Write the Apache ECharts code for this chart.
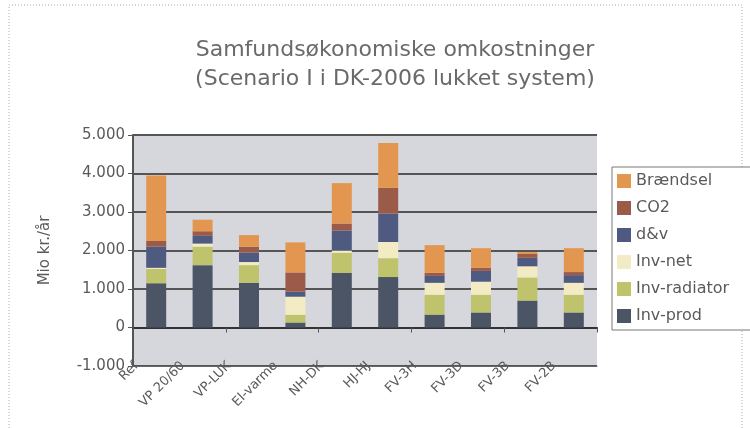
<!DOCTYPE html>
<html>
  <head>
    <meta charset="utf-8" />
    <title>Samfundsøkonomiske omkostninger</title>
    <script src="https://cdn.jsdelivr.net/npm/echarts@6/dist/echarts.min.js"></script>
  </head>
  <body style="margin:0;background:#fff;">
    <div id="chart" style="width:750px;height:428px;"></div>
    <script type="text/javascript">
      // values (Mio kr./år)
      var categories = ['Ref', 'VP 20/60', 'VP-LUK', 'El-varme', 'NH-DK', 'HJ-HJ', 'FV-3H', 'FV-3D', 'FV-3B', 'FV-2B'];
      var invProd = [1150, 1620, 1160, 130, 1420, 1310, 335, 390, 700, 390];
      var invRadiator = [370, 480, 460, 200, 520, 490, 515, 460, 600, 460];
      var invNet = [30, 80, 80, 470, 60, 420, 310, 340, 290, 310];
      var dv = [550, 200, 250, 130, 520, 740, 180, 280, 220, 200];
      var co2 = [150, 120, 150, 500, 180, 670, 80, 80, 100, 80];
      var braendsel = [1700, 300, 300, 780, 1050, 1160, 720, 510, 50, 620];
      var legendOrder = ['Brændsel', 'CO2', 'd&v', 'Inv-net', 'Inv-radiator', 'Inv-prod'];

      var font = 'DejaVu Sans';
      var txt = '#5a5a5a';

      function stackSeries(name, data, color) {
        return {
          name: name, type: 'bar', stack: 'total', data: data,
          barWidth: 20, xAxisIndex: 0,
          itemStyle: { color: color }
        };
      }

      function fmt(v) {
        if (v === 0) return '0';
        var s = Math.abs(v).toString().replace(/\B(?=(\d{3})+(?!\d))/g, '.');
        return (v < 0 ? '-' : '') + s;
      }

      var chart = echarts.init(document.getElementById('chart'));
      chart.setOption({
        animation: false,
        backgroundColor: '#fff',
        title: {
          text: 'Samfundsøkonomiske omkostninger\n(Scenario I i DK-2006 lukket system)',
          left: 390, top: 31, textAlign: 'center',
          textStyle: { fontFamily: font, fontSize: 22, fontWeight: 'normal', color: '#6a6a6a', lineHeight: 29 }
        },
        graphic: [{
          type: 'rect', shape: { x: 9, y: 5, width: 733, height: 440 },
          style: { fill: 'none', stroke: '#aaa', lineWidth: 1, lineDash: [1, 2] }, z: -1
        }],
        legend: {
          orient: 'vertical', left: 612, top: 167,
          data: legendOrder,
          itemWidth: 14, itemHeight: 14, itemGap: 11,
          icon: 'rect',
          backgroundColor: '#fff', borderColor: '#777', borderWidth: 1,
          padding: [6, 40, 6, 5],
          textStyle: { fontFamily: font, fontSize: 16, color: txt }
        },
        grid: { left: 133, right: 153, top: 135, bottom: 62, show: true, backgroundColor: '#d6d7dd', borderWidth: 0 },
        xAxis: [{
          type: 'category', data: categories, position: 'bottom',
          axisLine: { onZero: false, lineStyle: { color: '#666', width: 1 } },
          axisTick: { show: false },
          axisLabel: { rotate: 45, margin: -22, padding: [0, 28, 0, 0], fontFamily: font, fontSize: 13, color: txt, interval: 0 }
        }, {
          type: 'category', data: categories, position: 'bottom',
          axisLine: { onZero: true, lineStyle: { color: '#333', width: 2 } },
          axisTick: { show: true, length: 5, lineStyle: { color: '#555' } },
          axisLabel: { show: false }
        }],
        yAxis: {
          type: 'value', min: -1000, max: 5000, interval: 1000,
          name: 'Mio kr./år', nameLocation: 'middle', nameGap: 80,
          nameTextStyle: { fontFamily: font, fontSize: 15, color: txt },
          axisLine: { show: true, lineStyle: { color: '#555', width: 2 } },
          axisTick: { show: true, length: 5, lineStyle: { color: '#555' } },
          axisLabel: { formatter: fmt, fontFamily: font, fontSize: 15, color: txt, margin: 8 },
          splitLine: { lineStyle: { color: '#555', width: 2 } }
        },
        series: [
          stackSeries('Inv-prod', invProd, '#4b5566'),
          stackSeries('Inv-radiator', invRadiator, '#bfc36c'),
          stackSeries('Inv-net', invNet, '#f3ebc4'),
          stackSeries('d&v', dv, '#4e5a80'),
          stackSeries('CO2', co2, '#9c5a48'),
          stackSeries('Brændsel', braendsel, '#e2964f')
        ]
      });
    </script>
  </body>
</html>
